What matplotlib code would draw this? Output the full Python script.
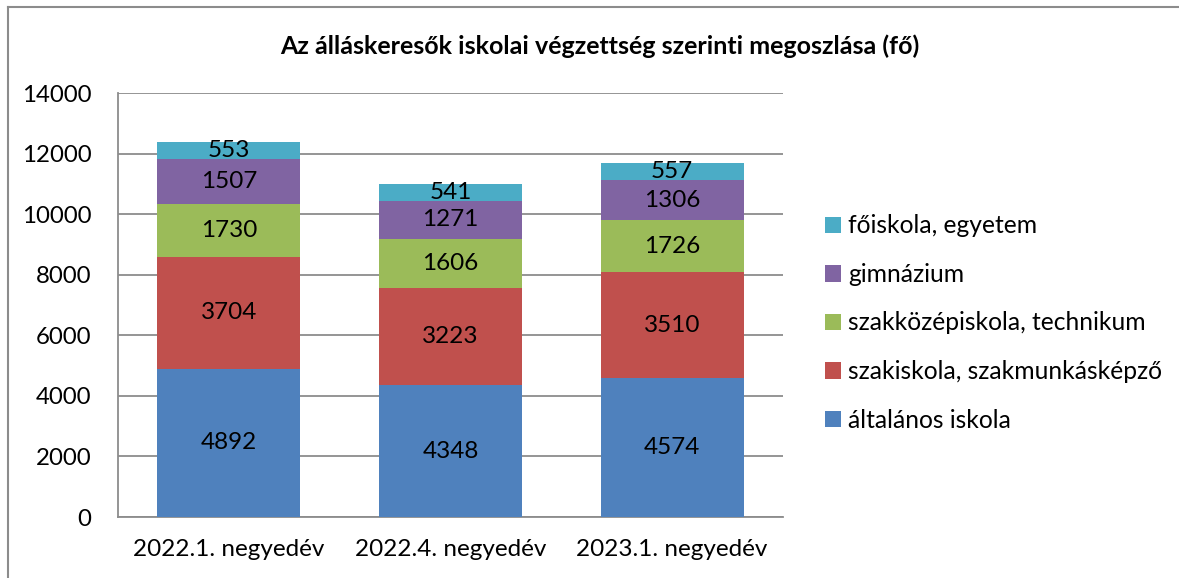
import matplotlib.pyplot as plt
from matplotlib.lines import Line2D
import numpy as np

plt.rcParams['font.family'] = ['Lato', 'DejaVu Sans']

# 見出しとデータ
title = "Az álláskeresők iskolai végzettség szerinti megoszlása (fő)"
categories = ["2022.1. negyedév", "2022.4. negyedév", "2023.1. negyedév"]
series_names = ["általános iskola", "szakiskola, szakmunkásképző",
                "szakközépiskola, technikum", "gimnázium", "főiskola, egyetem"]
altalanos = [4892, 4348, 4574]
szakiskola = [3704, 3223, 3510]
szakkozep = [1730, 1606, 1726]
gimnazium = [1507, 1271, 1306]
foiskola = [553, 541, 557]
y_ticks = [0, 2000, 4000, 6000, 8000, 10000, 12000, 14000]

colors = ["#4F81BD", "#C0504D", "#9BBB59", "#8064A2", "#4BACC6"]
grid_color = "#8C8C8C"

fig = plt.figure(figsize=(11.79, 5.78), dpi=100)
ax = fig.add_axes([118 / 1179, 1 - 517 / 578, (783 - 118) / 1179, (517 - 93) / 578])

x = np.arange(len(categories))
bottom = np.zeros(len(categories))
handles = []
for name, vals, c in zip(series_names, [altalanos, szakiskola, szakkozep, gimnazium, foiskola], colors):
    vals = np.array(vals, dtype=float)
    bars = ax.bar(x, vals, width=0.645, bottom=bottom, color=c, label=name, zorder=3)
    ax.bar_label(bars, labels=[str(int(v)) for v in vals], label_type="center",
                 fontsize=17.5, color="black")
    handles.append(bars)
    bottom += vals

ax.set_xlim(-0.5, 2.5)
ax.set_ylim(0, 14000)
ax.set_yticks(y_ticks)
ax.set_yticklabels([str(t) for t in y_ticks], fontsize=17.3)
ax.set_xticks(x)
ax.set_xticklabels(categories, fontsize=17.5)
ax.tick_params(axis="y", length=0, pad=19)
ax.tick_params(axis="x", length=0, pad=16)
ax.yaxis.grid(True, color=grid_color, linewidth=1.3, zorder=0)
for s in ["top", "right"]:
    ax.spines[s].set_visible(False)
for s in ["left", "bottom"]:
    ax.spines[s].set_color(grid_color)
    ax.spines[s].set_linewidth(1.3)

fig.text(600 / 1179, 1 - 46 / 578, title, ha="center", va="center",
         fontsize=18, fontweight="bold")

# 凡例 (逆順)
leg = fig.legend(handles[::-1], series_names[::-1], loc="center left",
                 bbox_to_anchor=(825 / 1179, 1 - 323 / 578), frameon=False,
                 fontsize=17.7, handlelength=0.65, handleheight=0.65,
                 handletextpad=0.28, labelspacing=1.04,
                 borderpad=0, borderaxespad=0)

# 図の枠線
fig.add_artist(Line2D([8 / 1179, 8 / 1179], [0, 1 - 7 / 578], transform=fig.transFigure,
                      color="#8C8C8C", linewidth=1.5))
fig.add_artist(Line2D([8 / 1179, 1], [1 - 7 / 578, 1 - 7 / 578], transform=fig.transFigure,
                      color="#8C8C8C", linewidth=1.5))

plt.savefig("out.png", dpi=100)
plt.close()
